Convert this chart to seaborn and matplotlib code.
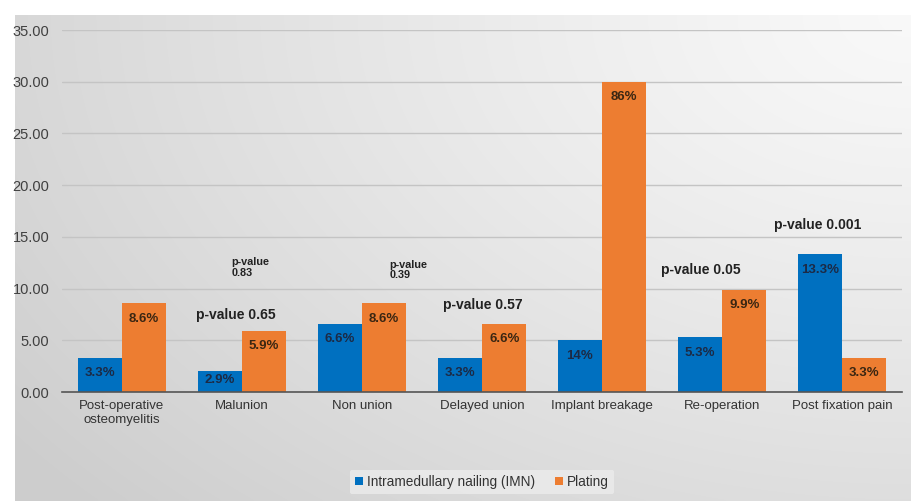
import numpy as np
import pandas as pd
import matplotlib
matplotlib.use("Agg")
import matplotlib.pyplot as plt
import seaborn as sns

categories = ["Post-operative\nosteomyelitis", "Malunion", "Non union", "Delayed union",
              "Implant breakage", "Re-operation", "Post fixation pain"]
imn_values = [3.3, 2.0, 6.6, 3.3, 5.0, 5.3, 13.3]
plating_values = [8.6, 5.9, 8.6, 6.6, 30.0, 9.9, 3.3]
imn_labels = ["3.3%", "2.9%", "6.6%", "3.3%", "14%", "5.3%", "13.3%"]
plating_labels = ["8.6%", "5.9%", "8.6%", "6.6%", "86%", "9.9%", "3.3%"]
series = ["Intramedullary nailing (IMN)", "Plating"]
pvalue_texts = ["p-value\n0.83", "p-value 0.65", "p-value\n0.39", "p-value 0.57",
                "p-value 0.05", "p-value 0.001"]
pvalue_pos = [(0.91, 12.0), (0.95, 7.45), (2.23, 11.8), (3.01, 8.4), (4.82, 11.8), (5.8, 16.15)]
pvalue_small = [True, False, True, False, False, False]
yticks = [0, 5, 10, 15, 20, 25, 30, 35]

df = pd.DataFrame({
    "category": categories * 2,
    "value": imn_values + plating_values,
    "series": [series[0]] * 7 + [series[1]] * 7,
})

sns.set_theme(style="white")
plt.rcParams['font.family'] = ['Liberation Sans', 'DejaVu Sans']

W, H = 912, 501
fig = plt.figure(figsize=(W / 100, H / 100), dpi=100)
fig.patch.set_facecolor("white")

# gradient background
bg = fig.add_axes([15 / W, 0, 1 - 15 / W, (H - 15) / H])
ny, nx = 200, 400
yy, xx = np.mgrid[0:1:ny * 1j, 0:1:nx * 1j]
d = np.sqrt(((xx - 1.0) * 1.2) ** 2 + ((yy - 0.0) * 1.0) ** 2)
val = 0.975 - 0.17 * np.clip(d / 1.5, 0, 1) ** 1.2
img = np.dstack([val, val, val])
bg.imshow(img, aspect="auto", extent=[0, 1, 1, 0], interpolation="bilinear")
bg.set_axis_off()

ax = fig.add_axes([62 / W, 1 - 392 / H, 840 / W, 362 / H])
ax.patch.set_alpha(0)
colors = ["#0070C0", "#ED7D31"]
sns.barplot(data=df, x="category", y="value", hue="series", palette=colors,
            width=0.74, gap=0, ax=ax, legend=True, saturation=1,
            edgecolor="none", linewidth=0)

ax.set_ylim(0, 35)
ax.set_xlim(-0.5, 6.5)
ax.set_yticks(yticks)
ax.set_yticklabels([f"{t:.2f}" for t in yticks])
ax.yaxis.grid(True, color="#c4c4c4", lw=1)
ax.set_axisbelow(True)
ax.set_xlabel("")
ax.set_ylabel("")
for s in ["top", "right", "left"]:
    ax.spines[s].set_visible(False)
ax.spines["bottom"].set_color("#555555")
ax.spines["bottom"].set_linewidth(1.2)
ax.tick_params(axis="y", length=0, pad=9, labelsize=10.5, labelcolor="#404040")
ax.tick_params(axis="x", which="major", length=0, pad=6, labelsize=9.5, labelcolor="#333333")
ax.set_xticks(np.arange(-0.5, 7, 1.0), minor=True)
ax.tick_params(axis="x", which="minor", length=5, width=1.2, color="#555555", direction="out")

bw = 0.37
for i in range(7):
    yb = max(imn_values[i] - 1.5, 1.15)
    ax.text(i - bw / 2, yb, imn_labels[i], ha="center", va="center", fontsize=9.5,
            fontweight="bold", color="#1c2a45")
    yo = max(plating_values[i] - 1.5, 1.15)
    ax.text(i + bw / 2, yo, plating_labels[i], ha="center", va="center", fontsize=9.5,
            fontweight="bold", color="#3a2612")

for t, (x, y), small in zip(pvalue_texts, pvalue_pos, pvalue_small):
    if small:
        ax.text(x, y, t, ha="left", va="center", fontsize=7.8, fontweight="bold",
                color="#222222", linespacing=1.1)
    else:
        ax.text(x, y, t, ha="center", va="center", fontsize=10, fontweight="bold",
                color="#222222")

leg = ax.legend(loc="center", bbox_to_anchor=(0.5, (392 - 482) / 362), ncol=2,
                frameon=True, fontsize=9.8, handlelength=0.55, handleheight=0.55,
                handletextpad=0.3, columnspacing=1.5, borderpad=0.4)
leg.get_frame().set_facecolor("#ececec")
leg.get_frame().set_edgecolor("none")
leg.get_frame().set_alpha(0.8)
for txt in leg.get_texts():
    txt.set_color("#333333")

fig.savefig("out.png", dpi=100)
